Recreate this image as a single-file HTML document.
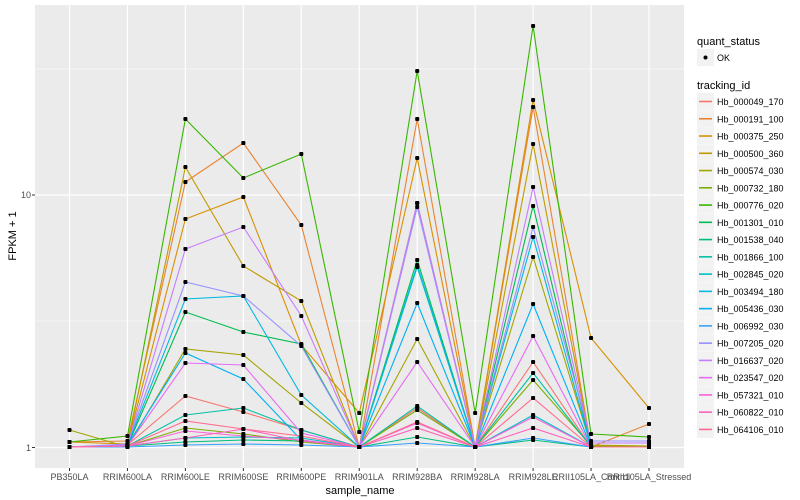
<!DOCTYPE html>
<html><head><meta charset="utf-8"><style>
body{margin:0;background:#fff}
svg{display:block;font-family:"Liberation Sans",sans-serif}
</style></head><body>
<svg width="800" height="500" viewBox="0 0 800 500" xmlns="http://www.w3.org/2000/svg">
<rect x="35" y="5" width="649" height="463" fill="#EBEBEB"/>
<g stroke="#fff">
<line x1="35" x2="684" y1="321" y2="321" stroke-width="0.6"/>
<line x1="35" x2="684" y1="69" y2="69" stroke-width="0.6"/>
<line x1="35" x2="684" y1="447.5" y2="447.5" stroke-width="1.2"/>
<line x1="35" x2="684" y1="195" y2="195" stroke-width="1.2"/>
<g id="vg" stroke-width="1.2"></g>
</g>
<g id="lines" fill="none" stroke-width="1.1"></g>
<g id="pts" fill="#000"></g>
<g font-size="9" fill="#4D4D4D" text-anchor="end">
<text x="31" y="451">1</text><text x="31" y="198">10</text>
</g>
<g stroke="#333" stroke-width="1"><line x1="32" x2="35" y1="447.5" y2="447.5"/><line x1="32" x2="35" y1="195" y2="195"/></g>
<g id="xl" font-size="9" fill="#4D4D4D" text-anchor="middle"></g>
<text x="360" y="494" font-size="11" text-anchor="middle">sample_name</text>
<text transform="translate(16,236) rotate(-90)" font-size="11" text-anchor="middle">FPKM + 1</text>
<text x="697" y="45" font-size="11">quant_status</text>
<rect x="697" y="49" width="17" height="17" fill="#F2F2F2"/>
<circle cx="705.5" cy="57.5" r="2" fill="#000"/>
<text x="717" y="61" font-size="9">OK</text>
<text x="697" y="89" font-size="11">tracking_id</text>
<g id="leg" font-size="9"></g>
</svg>
<script>
var C=["#F8766D","#EA8331","#D89000","#C09B00","#A3A500","#7CAE00","#39B600","#00BB4E","#00BF7D","#00C1A3","#00BFC4","#00BAE0","#00B0F6","#35A2FF","#9590FF","#C77CFF","#E76BF3","#FA62DB","#FF62BC","#FF6C91"];
var N=["Hb_000049_170","Hb_000191_100","Hb_000375_250","Hb_000500_360","Hb_000574_030","Hb_000732_180","Hb_000776_020","Hb_001301_010","Hb_001538_040","Hb_001866_100","Hb_002845_020","Hb_003494_180","Hb_005436_030","Hb_006992_030","Hb_007205_020","Hb_016637_020","Hb_023547_020","Hb_057321_010","Hb_060822_010","Hb_064106_010"];
var D=[
[447,445,396,412,430,447,408,447,362,447,447],
[442,441,182,143,225,447,119,447,107,447,424],
[442,444,219,197,345,413,158,447,100,338,408],
[447,445,167,266,301,447,203,447,144,445,446],
[430,447,349,355,403,447,339,447,257,446,446],
[447,446,428,434,442,447,410,447,380,446,447],
[442,436,119,178,154,432,71,413,26,434,437],
[447,446,312,332,344,447,260,447,206,447,447],
[447,446,442,440,441,447,437,447,440,447,447],
[447,446,415,408,430,447,406,447,373,447,447],
[447,446,438,437,438,447,267,447,415,447,447],
[447,445,299,296,395,447,265,447,237,447,447],
[447,445,353,379,440,447,303,447,304,447,447],
[447,447,445,444,445,447,443,447,438,447,447],
[447,444,282,296,346,447,207,447,227,441,441],
[447,445,249,227,316,447,203,447,187,443,443],
[447,446,363,365,433,447,362,447,336,447,447],
[447,446,431,436,440,447,423,447,417,447,447],
[447,446,438,429,441,447,428,447,428,447,447],
[447,446,421,429,436,447,422,447,398,447,447]];
var S=["PB350LA","RRIM600LA","RRIM600LE","RRIM600SE","RRIM600PE","RRIM901LA","RRIM928BA","RRIM928LA","RRIM928LE","RRII105LA_Control","RRII105LA_Stressed"];
function X(i){return 69.5+i*57.95}
var ns="http://www.w3.org/2000/svg";
function el(t,a,p){var e=document.createElementNS(ns,t);for(var k in a)e.setAttribute(k,a[k]);document.getElementById(p).appendChild(e);return e}
for(var i=0;i<11;i++){el("line",{x1:X(i),x2:X(i),y1:5,y2:468},"vg");
var t=el("text",{x:X(i),y:480},"xl");t.textContent=S[i];
var tk=document.createElementNS(ns,"line");tk.setAttribute("x1",X(i));tk.setAttribute("x2",X(i));tk.setAttribute("y1",468);tk.setAttribute("y2",471);tk.setAttribute("stroke","#333");document.querySelector("svg").appendChild(tk);}
D.forEach(function(d,s){el("polyline",{points:d.map(function(y,i){return X(i)+","+y}).join(" "),stroke:C[s]},"lines");});
D.forEach(function(d){d.forEach(function(y,i){el("rect",{x:X(i)-2,y:y-2,width:4,height:4,rx:1},"pts")})});
N.forEach(function(n,i){var y=93+i*17.26;el("rect",{x:697,y:y,width:17,height:17,fill:"#F2F2F2"},"leg");
el("line",{x1:699,x2:712,y1:y+8.5,y2:y+8.5,stroke:C[i],"stroke-width":1.6},"leg");
var t=el("text",{x:717,y:y+12},"leg");t.textContent=n;});
</script>
</body></html>
